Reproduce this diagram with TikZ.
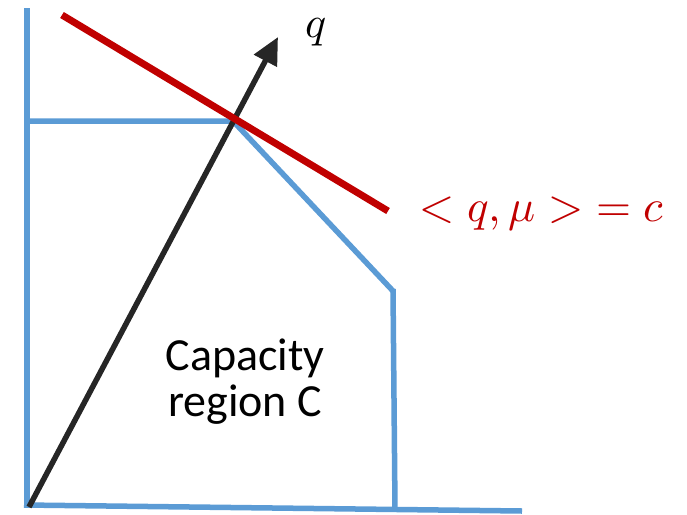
\documentclass[tikz,border=0pt]{standalone}
\usepackage{fontspec}
\usepackage{unicode-math}
\newfontfamily\calib{Carlito}
\usetikzlibrary{arrows.meta}
\definecolor{regblue}{HTML}{5B9BD5}
\definecolor{linered}{HTML}{C00000}
\definecolor{arrowblack}{HTML}{262626}
\tikzset{
  regionline/.style={draw=regblue,line width=5.5pt},
  hyperline/.style={draw=linered,line width=7pt},
  qarrow/.style={draw=arrowblack,line width=5.5pt,-{Triangle[length=27pt,width=25pt]}},
}
\begin{document}
\begin{tikzpicture}[x=1pt,y=-1pt]
\useasboundingbox (0,0) rectangle (687,514);
% region vertices
\coordinate (ytop) at (27,8);
\coordinate (orig) at (27,506);
\coordinate (ycorner) at (27,121);
\coordinate (corner) at (233,121);
\coordinate (diagend) at (393,291);
\coordinate (vbottom) at (395,509);
\coordinate (xend) at (522,511);
\coordinate (bleft) at (24,505);
% axes and region boundary
\draw[regionline] (ytop) -- (orig);
\draw[regionline] (bleft) -- (xend);
\draw[regionline,line join=miter] (ycorner) -- (corner) -- (diagend);
\draw[regionline] (diagend |- 0,289) -- (vbottom);
% arrow q
\coordinate (qstart) at (29,507);
\coordinate (qtip) at (278,37);
\draw[qarrow] (qstart) -- (qtip);
% red line
\coordinate (rstart) at (62,15);
\coordinate (rend) at (388,211);
\draw[hyperline] (rstart) -- (rend);
% labels
\node[font=\fontsize{44}{50}\selectfont,inner sep=0pt] (qlabel) at (316,32) {$q$};
\node[font=\fontsize{45}{50}\selectfont,text=linered] (formula) at (542,214) {$<q,\mu>\;=c$};
\node[font=\calib\fontsize{46}{46}\selectfont,align=center] (cap) at (245,382) {Capacity\\region C};
\end{tikzpicture}
\end{document}
